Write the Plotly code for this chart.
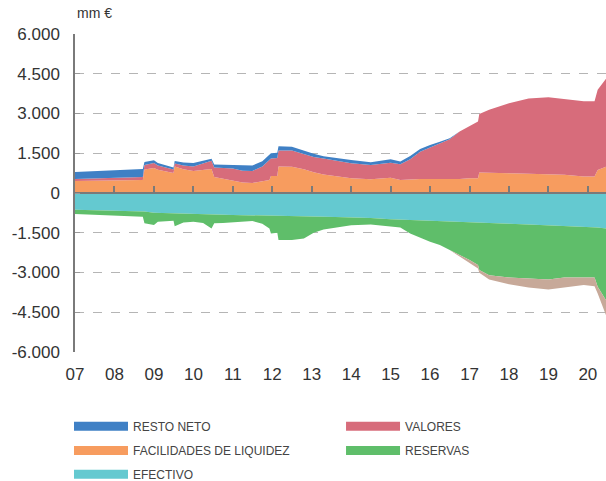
import plotly.graph_objects as go
import numpy as np

# ---------------- data (mm €) ----------------
dates = ["2007-01-01", "2007-07-01", "2008-01-01", "2008-07-01", "2008-09-20", "2008-10-05",
         "2009-01-01", "2009-02-06", "2009-04-01", "2009-07-01", "2009-07-12", "2009-10-01",
         "2010-01-01", "2010-04-01", "2010-06-18", "2010-07-13", "2010-10-01", "2011-01-01",
         "2011-04-01", "2011-07-01", "2011-10-01", "2011-12-06", "2011-12-20", "2012-02-17",
         "2012-02-28", "2012-07-01", "2012-10-20", "2013-01-19", "2013-04-20", "2013-08-08",
         "2014-01-01", "2014-07-01", "2015-01-01", "2015-04-01", "2015-07-01", "2015-10-01",
         "2016-01-01", "2016-04-01", "2016-07-01", "2016-10-01", "2017-01-01", "2017-03-20",
         "2017-04-01", "2017-07-01", "2018-01-01", "2018-07-01", "2019-01-01", "2019-05-27",
         "2019-11-24", "2020-03-03", "2020-04-01", "2020-06-17"]

facilidades = [455, 470, 470, 490, 490, 890, 945, 880, 830, 755, 1000, 900,
               830, 870, 905, 605, 540, 490, 400, 380, 430, 490, 640, 640,
               1000, 995, 895, 780, 700, 650, 555, 515, 580, 490, 515, 530,
               530, 525, 525, 530, 555, 555, 770, 770, 745, 725, 710, 690,
               620, 620, 870, 995]

valores = [75, 80, 95, 95, 110, 170, 190, 160, 150, 135, 115, 140,
           170, 245, 315, 360, 410, 435, 440, 450, 570, 780, 660, 680,
           600, 605, 580, 580, 600, 570, 565, 545, 565, 595, 760, 1030,
           1195, 1345, 1505, 1790, 1975, 2145, 2215, 2370, 2645, 2840, 2905, 2865,
           2845, 2845, 3025, 3315]

resto_neto = [260, 280, 305, 315, 310, 110, 105, 90, 95, 75, 95, 110,
              135, 95, 70, 110, 120, 135, 190, 210, 200, 200, 200, 200,
              160, 150, 125, 120, 90, 100, 130, 100, 130, 100, 125, 100,
              90, 60, 40, -70, -105, -125, -100, -160, -250, -340, -380, -375,
              -285, -325, -250, -565]

efectivo = [-630, -650, -670, -690, -700, -700, -745, -750, -760, -770, -770, -780,
            -795, -805, -810, -815, -820, -830, -835, -840, -850, -860, -865, -870,
            -870, -880, -890, -895, -900, -910, -920, -945, -995, -1010, -1030, -1050,
            -1065, -1075, -1085, -1095, -1110, -1120, -1120, -1135, -1160, -1185, -1210, -1235,
            -1270, -1290, -1300, -1335]

reservas = [-160, -170, -200, -200, -195, -445, -465, -335, -300, -275, -480, -330,
            -290, -325, -525, -330, -310, -280, -250, -220, -310, -475, -660, -630,
            -905, -895, -825, -605, -475, -390, -300, -240, -255, -290, -495, -640,
            -775, -890, -1070, -1235, -1420, -1600, -1790, -1965, -2030, -2040, -2050, -1955,
            -1920, -1900, -2240, -2710]

y_tickvals = [6000, 4500, 3000, 1500, 0, -1500, -3000, -4500, -6000]
y_ticktext = ["6.000", "4.500", "3.000", "1.500", "0", "-1.500", "-3.000", "-4.500", "-6.000"]

names = {"resto": "RESTO NETO", "val": "VALORES", "fac": "FACILIDADES DE LIQUIDEZ",
         "res": "RESERVAS", "ef": "EFECTIVO"}
colors = {"resto": "#3f80c5", "val": "#d76c7b", "fac": "#f79c5f", "res": "#5fbe6a",
          "ef": "#64c9d0", "resto_neg": "#c7a999"}

resto_pos = np.clip(np.array(resto_neto, dtype=float), 0, None)
resto_neg = np.clip(np.array(resto_neto, dtype=float), None, 0)

fig = go.Figure()

def area(y, key, group, color=None):
    c = color or colors[key]
    fig.add_trace(go.Scatter(x=dates, y=y, stackgroup=group, mode="lines",
                             line=dict(width=0, color=c), fillcolor=c,
                             showlegend=False, hoverinfo="skip"))

area(facilidades, "fac", "pos")
area(valores, "val", "pos")
area(resto_pos, "resto", "pos")
area(efectivo, "ef", "neg")
area(reservas, "res", "neg")
area(resto_neg, "resto_neg", "neg")

# legend entries: one legend box per entry (two columns, three rows)
legend_slots = [("resto", "legend", -0.0113, -0.188),
                ("val", "legend2", 0.501, -0.188),
                ("fac", "legend3", -0.0113, -0.264),
                ("res", "legend4", 0.501, -0.264),
                ("ef", "legend5", -0.0113, -0.339)]
for key, lg, _, _ in legend_slots:
    fig.add_trace(go.Scatter(x=[None], y=[None], mode="lines", name=names[key],
                             legend=lg, line=dict(color=colors[key], width=9)))

# helper trace so the zero-line axis is drawn
fig.add_trace(go.Scatter(x=dates[:1], y=[0], xaxis="x2", mode="lines", opacity=0,
                         showlegend=False, hoverinfo="skip"))

xr = ["2007-01-01", "2020-06-17"]
tickfont = dict(family="Liberation Sans, Arial, sans-serif", size=17, color="#333333")
legfont = dict(family="Liberation Sans, Arial, sans-serif", size=12, color="#444444")

legends = {}
for key, lg, lx, ly in legend_slots:
    legends[lg] = dict(orientation="h", x=lx, xanchor="left", y=ly, yanchor="top",
                       itemwidth=54, font=legfont, bgcolor="rgba(0,0,0,0)")

fig.update_layout(
    width=606, height=481,
    margin=dict(l=75, r=0, t=34, b=129, autoexpand=False),
    plot_bgcolor="white", paper_bgcolor="white",
    showlegend=True,
    xaxis=dict(range=xr, type="date", tickformat="%y", dtick="M12", tick0="2007-01-01",
               showgrid=False, zeroline=False, showline=False, ticks="",
               tickfont=tickfont, ticklabelstandoff=10, automargin=False),
    xaxis2=dict(range=xr, type="date", overlaying="x", anchor="free", position=0.5,
                dtick="M12", tick0="2007-01-01", showgrid=False, zeroline=False,
                showline=True, linecolor="#7a7a7a", linewidth=1.5,
                ticks="inside", ticklen=6, tickcolor="#7a7a7a", tickwidth=1.5,
                showticklabels=False, side="bottom", automargin=False),
    yaxis=dict(range=[-6000, 6000], tickvals=y_tickvals, ticktext=y_ticktext,
               showgrid=True, gridcolor="#b5b5b5", griddash="dash", gridwidth=1,
               zeroline=False, showline=True, linecolor="#7a7a7a", linewidth=1.5,
               ticks="inside", ticklen=5, tickcolor="#9a9a9a",
               tickfont=tickfont, ticklabelstandoff=10, automargin=False),
    annotations=[dict(text="mm €", xref="paper", yref="paper", x=0.0, y=1.035,
                      xanchor="left", yanchor="bottom", showarrow=False,
                      font=dict(family="Liberation Sans, Arial, sans-serif", size=14,
                                color="#333333"))],
    **legends,
)

fig.write_html("out.html", config={"displayModeBar": False},
               post_script="document.body.style.margin='0';")
